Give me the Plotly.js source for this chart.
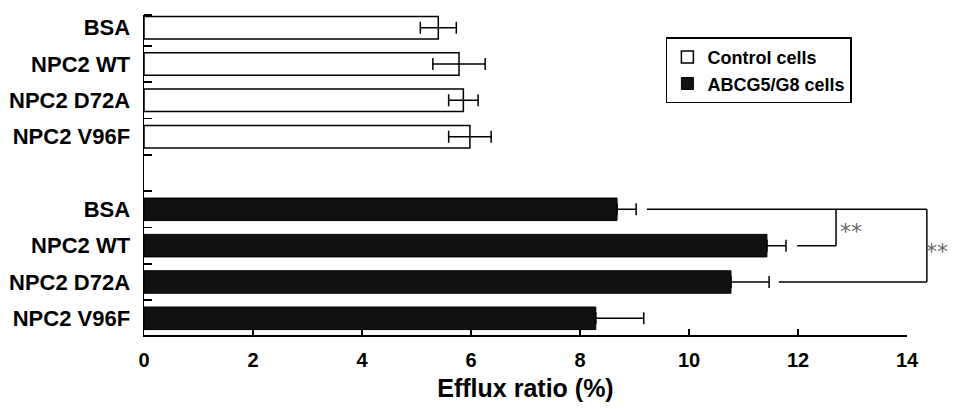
<!DOCTYPE html>
<html>
<head>
<meta charset="utf-8">
<script src="https://cdn.plot.ly/plotly-3.0.1.min.js"></script>
<style>html,body{margin:0;padding:0;background:#fff;}#chart{width:958px;height:409px;}</style>
</head>
<body>
<div id="chart"></div>
<script>
// ---- data ----
const categories = ['BSA', 'NPC2 WT', 'NPC2 D72A', 'NPC2 V96F'];
const controlValues = [5.40, 5.78, 5.86, 5.98];
const controlErrors = [0.33, 0.48, 0.27, 0.39];
const abcgValues = [8.68, 11.43, 10.77, 8.29];
const abcgErrors = [0.35, 0.35, 0.70, 0.88];
const seriesNames = ['Control cells', 'ABCG5/G8 cells'];
const xTicks = [0, 2, 4, 6, 8, 10, 12, 14];
const xTitle = 'Efflux ratio (%)';
const sigLabel = '**';

// ---- layout helpers ----
const groupGap = 1; // one empty slot between groups
const controlPos = categories.map((c, i) => i);
const abcgPos = categories.map((c, i) => categories.length + groupGap + i);
const allPos = controlPos.concat(abcgPos);
const allLabels = categories.concat(categories);
const boundaryTicks = [-0.35];
for (let i = 0; i < categories.length * 2 + groupGap - 1; i++) boundaryTicks.push(i + 0.5);

const font = 'Liberation Sans, Arial, sans-serif';

const traces = [
  {
    type: 'bar', orientation: 'h', name: seriesNames[0],
    x: controlValues, y: controlPos, width: 0.62,
    marker: {color: '#ffffff', line: {color: '#000', width: 1.5}},
    error_x: {type: 'data', array: controlErrors, visible: true, color: '#000', thickness: 1.5, width: 6}
  },
  {
    type: 'bar', orientation: 'h', name: seriesNames[1],
    x: abcgValues, y: abcgPos, width: 0.62,
    marker: {color: '#111111', line: {color: '#000', width: 1}},
    // lower half of the error bar is hidden inside the black bar in the original
    error_x: {type: 'data', symmetric: false, array: abcgErrors, arrayminus: abcgErrors.map(() => 0),
              visible: true, color: '#000', thickness: 1.5, width: 6}
  }
];

// significance brackets (positions of annotation lines, paper x / slot y)
const bsaY = abcgPos[0], wtY = abcgPos[1], d72Y = abcgPos[2];
const lineStyle = {color: '#000', width: 1.5};
const shapes = [
  {type: 'line', xref: 'paper', yref: 'y', x0: 0.659, x1: 1.026, y0: bsaY, y1: bsaY, line: lineStyle},
  {type: 'line', xref: 'paper', yref: 'y', x0: 1.026, x1: 1.026, y0: bsaY, y1: d72Y, line: lineStyle},
  {type: 'line', xref: 'paper', yref: 'y', x0: 0.832, x1: 1.026, y0: d72Y, y1: d72Y, line: lineStyle},
  {type: 'line', xref: 'paper', yref: 'y', x0: 0.856, x1: 0.907, y0: wtY, y1: wtY, line: lineStyle},
  {type: 'line', xref: 'paper', yref: 'y', x0: 0.907, x1: 0.907, y0: wtY, y1: bsaY, line: lineStyle}
];
const annotations = [
  {xref: 'paper', yref: 'y', x: 0.943, y: bsaY + 0.62, text: sigLabel, showarrow: false,
   font: {family: 'DejaVu Sans, sans-serif', size: 22, color: '#666'}},
  {xref: 'paper', yref: 'y', x: 1.057, y: wtY + 0.15, text: sigLabel, showarrow: false,
   font: {family: 'DejaVu Sans, sans-serif', size: 22, color: '#666'}}
];

const layout = {
  width: 958, height: 409,
  margin: {l: 144, r: 51, t: 15, b: 74},
  paper_bgcolor: '#fff', plot_bgcolor: '#fff',
  font: {family: font, color: '#000'},
  showlegend: true,
  legend: {
    x: 0.684, y: 0.93, xanchor: 'left', yanchor: 'top',
    bgcolor: '#fff', bordercolor: '#000', borderwidth: 1.5,
    font: {family: font, size: 18, color: '#000', weight: 'bold'},
    traceorder: 'normal', itemwidth: 30, tracegroupgap: 0
  },
  xaxis: {
    range: [0, 14], tickmode: 'array', tickvals: xTicks,
    ticks: 'inside', ticklen: 6, tickwidth: 1.5, tickcolor: '#000',
    showline: true, linecolor: '#000', linewidth: 1.5,
    showgrid: false, zeroline: false,
    tickfont: {family: font, size: 20, weight: 'bold', color: '#000'},
    ticklabelstandoff: 6,
    title: {text: xTitle, font: {family: font, size: 25, weight: 'bold', color: '#000'}, standoff: 10}
  },
  yaxis: {
    range: [8.46, -0.35], tickmode: 'array', tickvals: allPos, ticktext: allLabels,
    ticks: '', showline: true, linecolor: '#000', linewidth: 1.5,
    showgrid: false, zeroline: false,
    tickfont: {family: font, size: 22, weight: 'bold', color: '#000'},
    ticklabelstandoff: 8,
    minor: {tickmode: 'array', tickvals: boundaryTicks, ticks: 'inside', ticklen: 8, tickwidth: 1.5, tickcolor: '#000', showgrid: false}
  },
  bargap: 0.3,
  shapes: shapes,
  annotations: annotations
};

Plotly.newPlot('chart', traces, layout, {displayModeBar: false, staticPlot: true});
</script>
</body>
</html>
